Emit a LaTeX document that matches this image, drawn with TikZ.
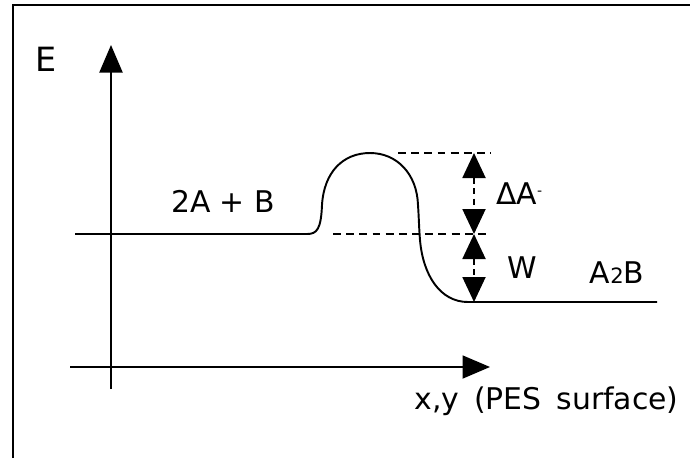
\documentclass[tikz,border=0pt]{standalone}
\usepackage{fontspec}
\setmainfont{DejaVu Sans}
\usetikzlibrary{arrows.meta}

\begin{document}
\begin{tikzpicture}[x=0.02cm, y=-0.02cm,
  lbl/.style={inner sep=0pt, font=\fontsize{17}{20}\selectfont},
  ln/.style={line width=1.1pt},
  axis/.style={ln, -{Triangle[length=0.55cm, width=0.46cm]}},
  dbl/.style={ln, {Triangle[length=0.5cm, width=0.46cm]}-{Triangle[length=0.5cm, width=0.46cm]}, dash pattern=on 3.5pt off 2.5pt},
  dsh/.style={ln, dash pattern=on 4.5pt off 3pt}]
\useasboundingbox (0,0) rectangle (690,458);
\draw[ln] (13,458) -- (13,5) -- (690,5);
% axes
\coordinate (ybot) at (111,389); \coordinate (ytop) at (111,45);
\coordinate (xl) at (70,367); \coordinate (xr) at (490,367);
\draw[axis] (ybot) -- (ytop); \draw[axis] (xl) -- (xr);
\node[lbl, font=\fontsize{19}{21}\selectfont, anchor=base] (e) at (46,71) {E};
\node[lbl, anchor=base west] (xlab) at (414,409) {x,y\hspace{0.5em}(PES\hspace{0.5em}surface)};
% energy profile
\coordinate (l0) at (75,234); \coordinate (l1) at (307,234);
\coordinate (top) at (370,153); \coordinate (bot) at (468,302); \coordinate (r1) at (657,302);
\draw[ln] (l0) -- (l1) .. controls (317,234) and (321,229) .. (322,205)
  .. controls (324,172) and (343,153) .. (top)
  .. controls (397,153) and (417,174) .. (418,205)
  .. controls (419,220) and (419,228) .. (420,240)
  .. controls (423,275) and (440,302) .. (bot) -- (r1);
\node[lbl, anchor=base] (react) at (223,212) {2A + B};
\node[lbl, anchor=base] (prod) at (617,283) {A{\fontsize{12}{13}\selectfont 2}B};
% barrier and well depth
\coordinate (t0) at (398,153); \coordinate (t1) at (491,153);
\coordinate (m0) at (333,234); \coordinate (m1) at (491,234);
\draw[dsh] (t0) -- (t1); \draw[dsh] (m0) -- (m1);
\coordinate (a0) at (474,153); \coordinate (a1) at (474,234); \coordinate (a2) at (474,302);
\draw[dbl] (a0) -- (a1); \draw[dbl] (a1) -- (a2);
\node[lbl, anchor=base west] (da) at (496,204) {ΔA\raisebox{0.5ex}{\fontsize{8}{8}\selectfont -}};
\node[lbl, anchor=base] (w) at (522,278) {W};
\end{tikzpicture}
\end{document}
